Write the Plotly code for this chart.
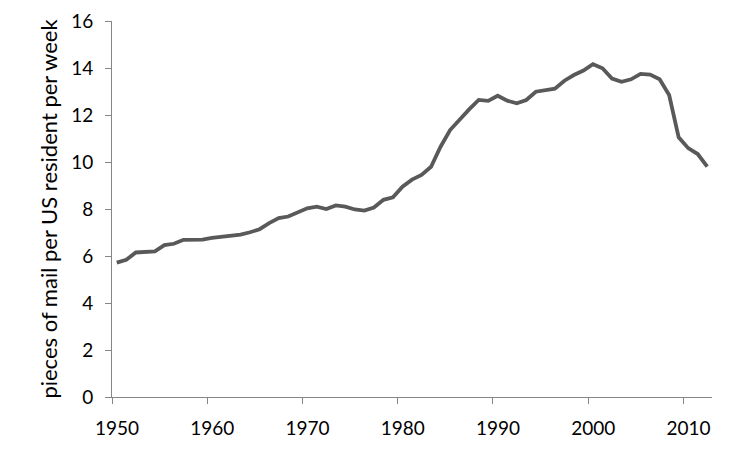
import plotly.graph_objects as go

years = list(range(1950, 2013))
pieces_per_week = [
    5.72, 5.84, 6.15, 6.16, 6.20, 6.46, 6.52, 6.69, 6.69, 6.70,
    6.77, 6.81, 6.86, 6.91, 7.01, 7.14, 7.40, 7.61, 7.68, 7.85,
    8.03, 8.10, 8.00, 8.15, 8.10, 7.98, 7.93, 8.06, 8.39, 8.50,
    8.95, 9.25, 9.45, 9.80, 10.65, 11.36, 11.83, 12.24, 12.64, 12.60,
    12.82, 12.61, 12.50, 12.64, 12.99, 13.07, 13.12, 13.46, 13.70, 13.89,
    14.16, 13.99, 13.55, 13.41, 13.52, 13.75, 13.72, 13.52, 12.85, 11.05,
    10.59, 10.34, 9.80,
]
tick_years = [1950, 1960, 1970, 1980, 1990, 2000, 2010]
y_ticks = [0, 2, 4, 6, 8, 10, 12, 14, 16]

FONT = "Lato"
AXIS_GREY = "#868686"

fig = go.Figure(
    go.Scatter(
        x=years,
        y=pieces_per_week,
        mode="lines",
        line=dict(color="#595959", width=3.8),
        hoverinfo="x+y",
    )
)

# the page body adds an 8px offset, so margins are shifted to compensate
fig.update_layout(
    width=750,
    height=450,
    paper_bgcolor="white",
    plot_bgcolor="white",
    showlegend=False,
    margin=dict(l=104, r=46, t=13, b=61),
    font=dict(family=FONT, size=19, color="#000000"),
)

# ticks sit on category boundaries, labels centred on the year
fig.update_xaxes(
    range=[years[0] - 0.5, years[-1] + 0.5],
    tickvals=[y - 0.5 for y in tick_years],
    ticktext=[str(y) for y in tick_years],
    ticklabelshift=5,
    ticks="outside",
    ticklen=6,
    tickcolor=AXIS_GREY,
    showline=True,
    linecolor=AXIS_GREY,
    linewidth=1,
    showgrid=False,
    zeroline=False,
    ticklabelstandoff=8,
    automargin=False,
)
fig.update_yaxes(
    range=[0, 16],
    tickvals=y_ticks,
    ticks="outside",
    ticklen=6,
    tickcolor=AXIS_GREY,
    showline=True,
    linecolor=AXIS_GREY,
    linewidth=1,
    showgrid=False,
    zeroline=False,
    ticklabelstandoff=8,
    automargin=False,
    title=dict(text="pieces of mail per US resident per week",
               font=dict(family=FONT, size=22), standoff=7),
)

fig.write_html("out.html")
